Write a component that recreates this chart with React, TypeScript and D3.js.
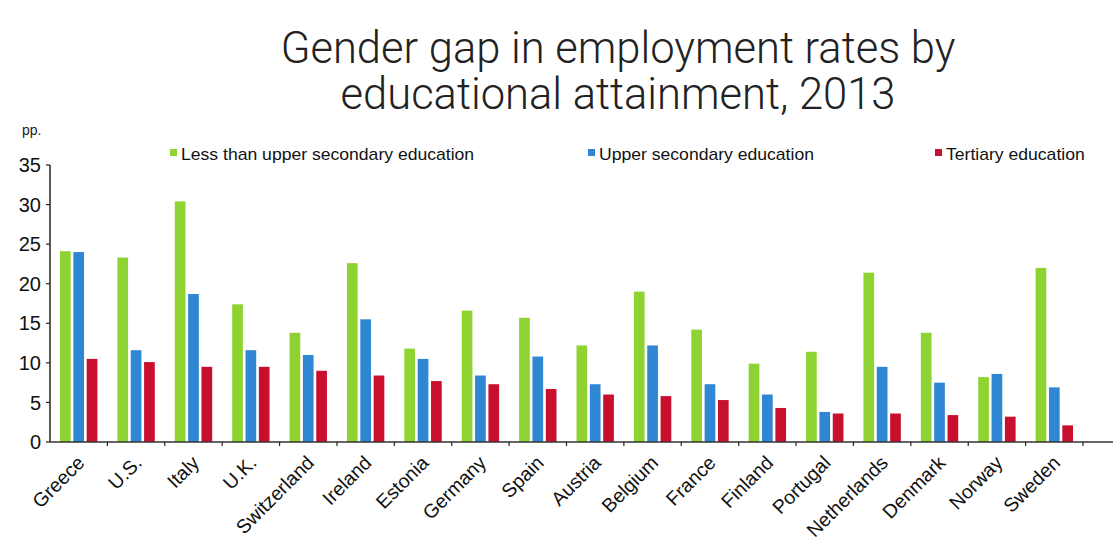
import React from "react";
import * as d3 from "d3";

const countries = [
  "Greece", "U.S.", "Italy", "U.K.", "Switzerland", "Ireland", "Estonia", "Germany", "Spain",
  "Austria", "Belgium", "France", "Finland", "Portugal", "Netherlands", "Denmark", "Norway", "Sweden",
];
const seriesNames = [
  "Less than upper secondary education",
  "Upper secondary education",
  "Tertiary education",
];
const lessThanUpperSecondary = [24.1, 23.3, 30.4, 17.4, 13.8, 22.6, 11.8, 16.6, 15.7, 12.2, 19.0, 14.2, 9.9, 11.4, 21.4, 13.8, 8.2, 22.0];
const upperSecondary = [24.0, 11.6, 18.7, 11.6, 11.0, 15.5, 10.5, 8.4, 10.8, 7.3, 12.2, 7.3, 6.0, 3.8, 9.5, 7.5, 8.6, 6.9];
const tertiary = [10.5, 10.1, 9.5, 9.5, 9.0, 8.4, 7.7, 7.3, 6.7, 6.0, 5.8, 5.3, 4.3, 3.6, 3.6, 3.4, 3.2, 2.1];
const yTicks = [0, 5, 10, 15, 20, 25, 30, 35];
const colors = ["#8ed332", "#2f86d2", "#c8102e"];

const W = 1117;
const H = 547;
const font = "'Liberation Sans', Arial, Helvetica, sans-serif";

export default function App() {
  const values = [lessThanUpperSecondary, upperSecondary, tertiary];
  const x = d3.scaleBand<string>().domain(countries).range([50, 1083]).padding(0);
  const inner = d3
    .scaleBand<string>()
    .domain(seriesNames)
    .range([10, x.bandwidth() - 10])
    .paddingInner(0.2)
    .paddingOuter(0);
  const y = d3.scaleLinear().domain([0, 35]).range([442, 165]);
  const legendX = [170, 588, 935];

  return (
    <svg
      width={W}
      height={H}
      style={{ position: "absolute", left: 0, top: 0, background: "#fff" }}
      fontFamily={font}
    >
      <rect x={0} y={0} width={W} height={H} fill="#fff" />
      <text
        x={618}
        y={63}
        textAnchor="middle"
        fontFamily="Roboto, 'Liberation Sans', sans-serif"
        fontWeight={300}
        fontSize={43.5}
        fill="#222"
      >
        Gender gap in employment rates by
      </text>
      <text
        x={618}
        y={109}
        textAnchor="middle"
        fontFamily="Roboto, 'Liberation Sans', sans-serif"
        fontWeight={300}
        fontSize={43.5}
        fill="#222"
      >
        educational attainment, 2013
      </text>

      <text x={22} y={135} fontSize={14} fill="#222">pp.</text>

      {seriesNames.map((s, i) => (
        <g key={s}>
          <rect x={legendX[i]} y={149} width={7} height={7} fill={colors[i]} />
          <text
            transform={`translate(${legendX[i] + 11},159.5) scale(1.1,1)`}
            fontSize={16}
            fill="#111"
          >
            {s}
          </text>
        </g>
      ))}

      {values.map((arr, si) =>
        arr.map((v, ci) => (
          <rect
            key={`${si}-${ci}`}
            x={(x(countries[ci]) as number) + (inner(seriesNames[si]) as number)}
            y={y(v)}
            width={inner.bandwidth()}
            height={y(0) - y(v)}
            fill={colors[si]}
          />
        ))
      )}

      {/* y axis */}
      <line x1={50} x2={50} y1={y(35)} y2={y(0)} stroke="#222" strokeWidth={1.5} />
      {yTicks.map((t) => (
        <g key={t}>
          <line x1={46} x2={50} y1={y(t)} y2={y(t)} stroke="#222" strokeWidth={1.2} />
          <text x={41} y={y(t)} dy="0.36em" textAnchor="end" fontSize={20} fill="#111">
            {t}
          </text>
        </g>
      ))}

      {/* x axis */}
      <line x1={50} x2={1113} y1={y(0)} y2={y(0)} stroke="#333" strokeWidth={1.5} />
      {countries.map((c) => (
        <line
          key={`t-${c}`}
          x1={(x(c) as number) + x.bandwidth()}
          x2={(x(c) as number) + x.bandwidth()}
          y1={y(0)}
          y2={y(0) + 4}
          stroke="#222"
          strokeWidth={1.2}
        />
      ))}
      {countries.map((c) => {
        const cx = (x(c) as number) + x.bandwidth() / 2 + 7;
        const cy = 464;
        return (
          <text
            key={`l-${c}`}
            transform={`translate(${cx},${cy}) rotate(-45)`}
            textAnchor="end"
            fontSize={19.5}
            fill="#111"
          >
            {c}
          </text>
        );
      })}
    </svg>
  );
}
